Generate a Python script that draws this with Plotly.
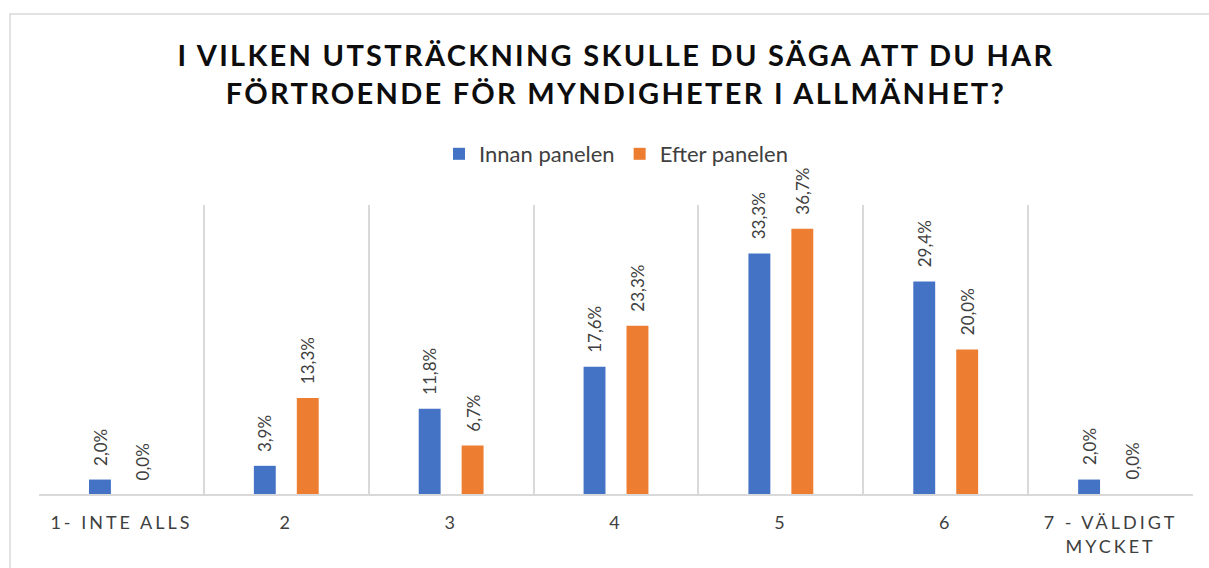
import plotly.graph_objects as go

categories = ["1- INTE ALLS", "2", "3", "4", "5", "6", "7 - VÄLDIGT<br>MYCKET"]
innan = [2.0, 3.9, 11.8, 17.6, 33.3, 29.4, 2.0]
efter = [0.0, 13.3, 6.7, 23.3, 36.7, 20.0, 0.0]
series_names = ["Innan panelen", "Efter panelen"]
colors = ["#4472C4", "#ED7D31"]
title_text = "I VILKEN UTSTRÄCKNING SKULLE DU SÄGA ATT DU HAR<br>FÖRTROENDE FÖR MYNDIGHETER I ALLMÄNHET?"

W, H = 1209, 568
L, R, T, B = 39, 16, 205, 74
pw, ph = W - L - R, H - T - B

def fmt(v):
    return f"{v:.1f}%".replace(".", ",")

fig = go.Figure()
for name, vals, col in zip(series_names, [innan, efter], colors):
    fig.add_trace(go.Bar(x=categories, y=vals, name=name, marker_color=col,
                         marker_line_width=0, hoverinfo="skip"))

annotations = []
for vals, shift in [(innan, -21.5), (efter, 21.5)]:
    for i, v in enumerate(vals):
        annotations.append(dict(x=i, y=v, xref="x", yref="y", text=fmt(v),
                                showarrow=False, textangle=-90, yanchor="bottom",
                                xanchor="center", xshift=shift, yshift=12,
                                font=dict(family="Lato", size=17, color="#404040")))

fig.update_layout(
    width=W, height=H,
    margin=dict(l=L, r=R, t=T, b=B, autoexpand=False),
    paper_bgcolor="white", plot_bgcolor="white",
    barmode="group", bargap=0.479, bargroupgap=0.49,
    title=dict(text=title_text, x=0.5, xanchor="center", xref="paper",
               y=1 - 66 / H, yanchor="middle", yref="container",
               font=dict(family="Lato", size=29, color="#0d0d0d", weight="bold")),
    legend=dict(orientation="h", x=0.5, xanchor="center", y=(H - B - 154) / ph,
                yanchor="middle", font=dict(family="Lato", size=22, color="#404040"),
                itemclick=False),
    xaxis=dict(type="category", tickson="boundaries", showgrid=True,
               gridcolor="#D9D9D9", gridwidth=1.5, showline=True,
               linecolor="#D9D9D9", linewidth=1.5, ticks="",
               ticklabelstandoff=12,
               tickfont=dict(family="Lato", size=18, color="#404040"),
               fixedrange=True),
    yaxis=dict(range=[0, 40], visible=False, showgrid=False, fixedrange=True),
    annotations=annotations,
    shapes=[dict(type="rect", xref="paper", yref="paper",
                 x0=(10 - L) / pw, x1=(1215 - L) / pw,
                 y0=(H - B - 580) / ph, y1=(H - B - 14) / ph,
                 line=dict(color="#D9D9D9", width=1.5), fillcolor="rgba(0,0,0,0)",
                 layer="below")],
    showlegend=True,
)

css = ("body{margin:0;padding:0} .gtitle{letter-spacing:2.3px} .xtick text{letter-spacing:3px}")
js = ("var s=document.createElement('style');s.textContent='" + css +
      "';document.head.appendChild(s);")
fig.write_html("out.html", post_script=js, config={"displayModeBar": False})
